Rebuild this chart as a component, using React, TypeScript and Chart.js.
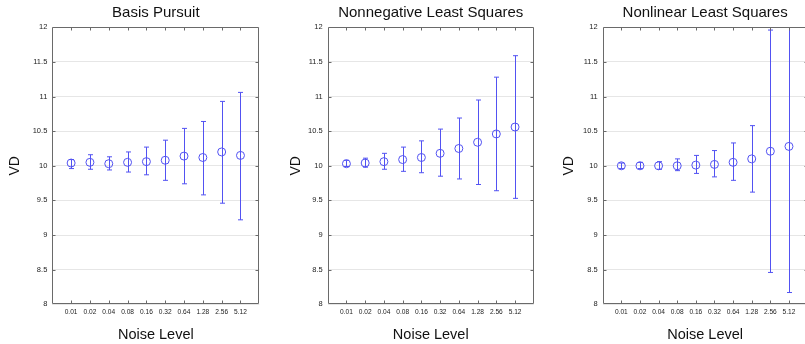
import React, { useEffect, useRef } from 'react';
import { Chart, registerables } from 'chart.js';

Chart.register(...registerables);

const FONT = '"Liberation Sans", Arial, Helvetica, sans-serif';
const BLUE = '#5252f2';

const noiseLevels = ['0.01', '0.02', '0.04', '0.08', '0.16', '0.32', '0.64', '1.28', '2.56', '5.12'];

const bpMean = [10.04, 10.05, 10.03, 10.05, 10.06, 10.08, 10.14, 10.12, 10.2, 10.15];
const bpLow = [9.96, 9.95, 9.94, 9.91, 9.87, 9.79, 9.74, 9.58, 9.46, 9.22];
const bpHigh = [10.09, 10.16, 10.13, 10.2, 10.27, 10.37, 10.54, 10.64, 10.93, 11.06];

const nnlsMean = [10.03, 10.04, 10.06, 10.09, 10.12, 10.18, 10.25, 10.34, 10.46, 10.56];
const nnlsLow = [9.99, 9.98, 9.95, 9.92, 9.9, 9.85, 9.81, 9.73, 9.64, 9.53];
const nnlsHigh = [10.08, 10.11, 10.18, 10.27, 10.36, 10.53, 10.69, 10.95, 11.28, 11.59];

const nlsMean = [10.0, 10.0, 10.0, 10.0, 10.01, 10.02, 10.05, 10.1, 10.21, 10.28];
const nlsLow = [9.96, 9.96, 9.95, 9.93, 9.89, 9.84, 9.79, 9.62, 8.46, 8.17];
const nlsHigh = [10.04, 10.05, 10.06, 10.1, 10.15, 10.22, 10.33, 10.58, 11.96, 12.4];

const yMin = 8;
const yMax = 12;
const yStep = 0.5;

type Panel = {
  title: string;
  mean: number[];
  low: number[];
  high: number[];
  left: number;
  yWidth: number;
  padRight: number;
  vdPad: number;
};

const panels: Panel[] = [
  { title: 'Basis Pursuit', mean: bpMean, low: bpLow, high: bpHigh, left: 0, yWidth: 52.3, padRight: 15.7, vdPad: 6.9 },
  { title: 'Nonnegative Least Squares', mean: nnlsMean, low: nnlsLow, high: nnlsHigh, left: 275, yWidth: 52.7, padRight: 16.2, vdPad: 12.8 },
  { title: 'Nonlinear Least Squares', mean: nlsMean, low: nlsLow, high: nlsHigh, left: 550, yWidth: 52.7, padRight: 17.4, vdPad: 10.4 },
];

function makeErrorBars(low: number[], high: number[]) {
  return {
    id: 'errbars',
    afterDatasetsDraw(chart: any) {
      const { ctx, chartArea, scales } = chart;
      const x = scales.x;
      const y = scales.y;
      ctx.save();
      ctx.beginPath();
      ctx.rect(chartArea.left, chartArea.top, chartArea.right - chartArea.left, chartArea.bottom - chartArea.top);
      ctx.clip();
      ctx.strokeStyle = BLUE;
      ctx.lineWidth = 1;
      low.forEach((lo, i) => {
        const px = Math.round(x.getPixelForValue(i + 1)) + 0.5;
        const pl = y.getPixelForValue(lo);
        const ph = y.getPixelForValue(high[i]);
        ctx.beginPath();
        ctx.moveTo(px, pl);
        ctx.lineTo(px, ph);
        ctx.moveTo(px - 2.5, pl);
        ctx.lineTo(px + 2.5, pl);
        ctx.moveTo(px - 2.5, ph);
        ctx.lineTo(px + 2.5, ph);
        ctx.stroke();
      });
      ctx.restore();
    },
  };
}

const framePlugin = {
  id: 'frame',
  afterDraw(chart: any) {
    const { ctx, chartArea, scales } = chart;
    const x = scales.x;
    const y = scales.y;
    const l = Math.round(chartArea.left) + 0.5;
    const r = Math.round(chartArea.right) - 0.5;
    const t = Math.round(chartArea.top) + 0.5;
    const b = Math.round(chartArea.bottom) - 0.5;
    ctx.save();
    ctx.strokeStyle = '#6a6a6a';
    ctx.lineWidth = 1;
    ctx.beginPath();
    ctx.rect(l, t, r - l, b - t);
    x.ticks.forEach((tk: any) => {
      const px = Math.round(x.getPixelForValue(tk.value)) + 0.5;
      ctx.moveTo(px, t);
      ctx.lineTo(px, t + 3);
      ctx.moveTo(px, b);
      ctx.lineTo(px, b - 3);
    });
    y.ticks.forEach((tk: any) => {
      if (tk.value <= yMin || tk.value >= yMax) return;
      const py = Math.round(y.getPixelForValue(tk.value)) + 0.5;
      ctx.moveTo(l, py);
      ctx.lineTo(l + 3, py);
      ctx.moveTo(r, py);
      ctx.lineTo(r - 3, py);
    });
    ctx.stroke();
    ctx.restore();
  },
};

function ErrorPanel({ p }: { p: Panel }) {
  const ref = useRef<HTMLCanvasElement | null>(null);
  useEffect(() => {
    if (!ref.current) return;
    const chart = new Chart(ref.current, {
      type: 'scatter',
      data: {
        datasets: [
          {
            data: p.mean.map((v, i) => ({ x: i + 1, y: v })),
            pointRadius: 4,
            pointBorderWidth: 1,
            pointBorderColor: BLUE,
            pointBackgroundColor: 'rgba(0,0,0,0)',
            showLine: false,
          },
        ],
      },
      options: {
        animation: false,
        responsive: false,
        events: [],
        layout: { padding: { left: 0, right: p.padRight, top: 0, bottom: 0 } },
        plugins: {
          legend: { display: false },
          tooltip: { enabled: false },
          title: {
            display: true,
            text: p.title,
            fullSize: false,
            color: '#111',
            font: { size: 15, family: FONT, weight: 'normal' },
            padding: { top: 4.3, bottom: 5 },
          },
        },
        scales: {
          x: {
            type: 'linear',
            min: 0,
            max: noiseLevels.length + 1,
            afterBuildTicks: (s: any) => {
              s.ticks = noiseLevels.map((_, i) => ({ value: i + 1 }));
            },
            afterFit: (s: any) => {
              s.height = 39.7;
            },
            grid: { display: false, drawTicks: false },
            border: { display: false },
            ticks: {
              autoSkip: false,
              maxRotation: 0,
              minRotation: 0,
              padding: 4,
              color: '#222',
              font: { size: 6.6, family: FONT },
              callback: (_v: any, i: number) => noiseLevels[i],
            },
            title: {
              display: true,
              text: 'Noise Level',
              color: '#111',
              font: { size: 14.5, family: FONT },
              padding: { top: 0, bottom: 0 },
            },
          },
          y: {
            min: yMin,
            max: yMax,
            afterFit: (s: any) => {
              s.width = p.yWidth;
            },
            grid: { color: '#e6e6e6', drawTicks: false },
            border: { display: false },
            ticks: {
              stepSize: yStep,
              padding: 5,
              color: '#222',
              font: { size: 7.5, family: FONT },
              callback: (v: any) => String(Number(v)),
            },
            title: {
              display: true,
              text: 'VD',
              color: '#111',
              font: { size: 14, family: FONT },
              padding: { top: p.vdPad, bottom: 0 },
            },
          },
        },
      },
      plugins: [makeErrorBars(p.low, p.high), framePlugin],
    } as any);
    return () => chart.destroy();
  }, [p]);
  return (
    <canvas
      ref={ref}
      width={275}
      height={344}
      style={{ position: 'absolute', left: p.left, top: 0, width: 275, height: 344 }}
    />
  );
}

export default function App() {
  return (
    <div
      style={{
        position: 'fixed',
        left: 0,
        top: 0,
        width: 805,
        height: 344,
        overflow: 'hidden',
        background: '#fff',
      }}
    >
      {panels.map((p) => (
        <ErrorPanel key={p.title} p={p} />
      ))}
    </div>
  );
}
